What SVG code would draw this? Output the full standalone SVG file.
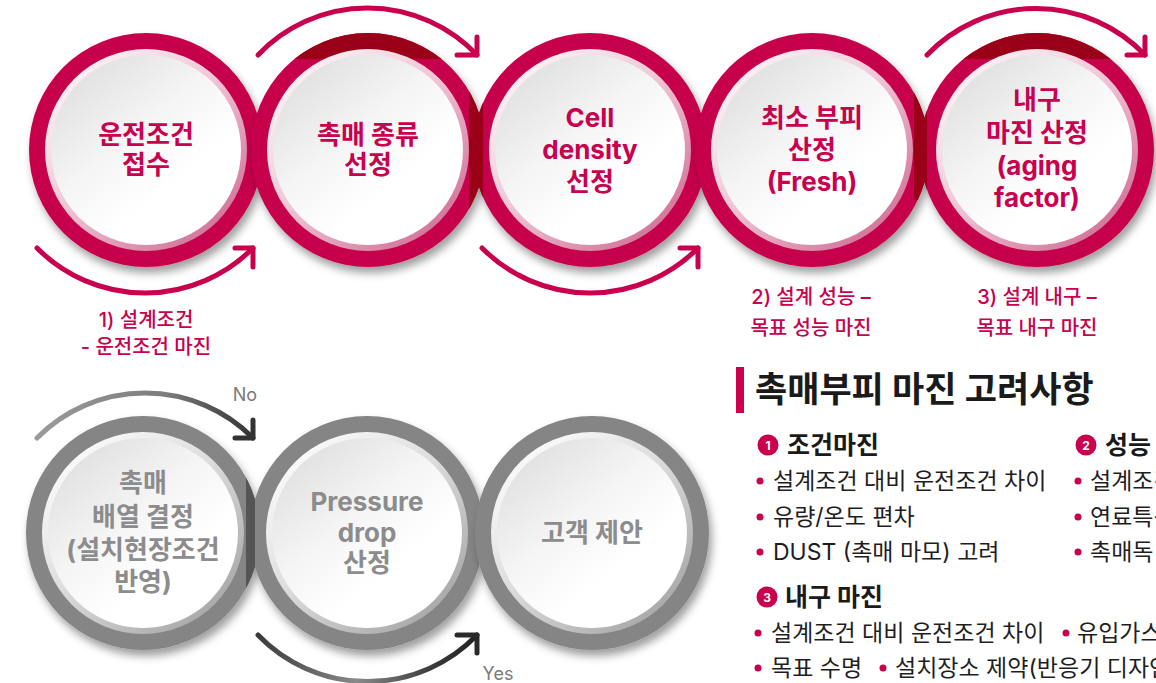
<svg xmlns="http://www.w3.org/2000/svg" width="1156" height="683" viewBox="0 0 1156 683">
<defs>
<style>
.ct{font-family:Inter,"Noto Sans CJK KR","Noto Sans",sans-serif;font-weight:700;font-size:26px;text-anchor:middle}
.pk{fill:#c8004d}
.gy{fill:#8c8c8c}
.lb{font-family:Inter,"Noto Sans CJK KR","Noto Sans",sans-serif;font-weight:500;font-size:20px;text-anchor:middle;fill:#c8004d}
.yn{font-family:Inter,"Noto Sans",sans-serif;font-weight:400;font-size:18px;fill:#7a7a7a}
.hd{font-family:Inter,"Noto Sans CJK KR","Noto Sans",sans-serif;font-weight:700;font-size:35px;fill:#1a1a1a}
.sh{font-family:Inter,"Noto Sans CJK KR","Noto Sans",sans-serif;font-weight:700;font-size:25px;fill:#1a1a1a}
.bt{font-family:Inter,"Noto Sans CJK KR","Noto Sans",sans-serif;font-weight:400;font-size:23px;fill:#1e1e1e}
.num{font-family:Inter,"Liberation Sans",sans-serif;font-weight:700;font-size:12px;fill:#fff;text-anchor:middle}
.bul{fill:#c8004d}
.arp{fill:none;stroke:#c8004d;stroke-width:5;stroke-linecap:round;stroke-linejoin:round}
.ring-p{fill:#c6004b}
.ring-g{fill:#858585}
</style>
<filter id="sh" x="-20%" y="-20%" width="150%" height="150%">
<feDropShadow dx="3" dy="6" stdDeviation="4" flood-color="#000" flood-opacity="0.38"/>
</filter>
<linearGradient id="bevP" x1="0.15" y1="0.1" x2="0.85" y2="0.9">
<stop offset="0" stop-color="#fbf1f5"/>
<stop offset="0.45" stop-color="#f0c6d6"/>
<stop offset="1" stop-color="#d27499"/>
</linearGradient>
<linearGradient id="bevG" x1="0.15" y1="0.1" x2="0.85" y2="0.9">
<stop offset="0" stop-color="#fafafa"/>
<stop offset="0.45" stop-color="#dcdcdc"/>
<stop offset="1" stop-color="#a8a8a8"/>
</linearGradient>
<linearGradient id="inn" x1="0.1" y1="0.05" x2="0.8" y2="0.9">
<stop offset="0" stop-color="#dedede"/>
<stop offset="0.45" stop-color="#f5f5f5"/>
<stop offset="0.75" stop-color="#ffffff"/>
<stop offset="1" stop-color="#ffffff"/>
</linearGradient>
<linearGradient id="gNo" gradientUnits="userSpaceOnUse" x1="37" y1="0" x2="253" y2="0">
<stop offset="0" stop-color="#9a9a9a"/>
<stop offset="0.6" stop-color="#7c7c7c"/>
<stop offset="1" stop-color="#333333"/>
</linearGradient>
<linearGradient id="gYes" gradientUnits="userSpaceOnUse" x1="258" y1="0" x2="477" y2="0">
<stop offset="0" stop-color="#3a3a3a"/>
<stop offset="0.45" stop-color="#8a8a8a"/>
<stop offset="0.8" stop-color="#3a3a3a"/>
<stop offset="1" stop-color="#222222"/>
</linearGradient>
<clipPath id="capTop"><rect x="0" y="0" width="1156" height="59"/></clipPath>
<clipPath id="c23"><circle cx="368" cy="150" r="117"/><circle cx="590" cy="150" r="117"/></clipPath>
<clipPath id="c45"><circle cx="812" cy="150" r="117"/><circle cx="1037" cy="150" r="117"/></clipPath>
<clipPath id="c67"><circle cx="143" cy="533" r="117"/><circle cx="367" cy="533" r="117"/></clipPath>
</defs>
<rect width="1156" height="683" fill="#ffffff"/>

<g id="node-1">
<circle class="ring-p" cx="146" cy="150" r="117" filter="url(#sh)"/>
<circle cx="146" cy="150" r="101" fill="url(#bevP)"/>
<circle cx="146" cy="150" r="95" fill="url(#inn)"/>
<text class="ct pk" x="146" y="144">운전조건</text>
<text class="ct pk" x="146" y="174">접수</text>
</g>
<g id="node-2">
<circle class="ring-p" cx="368" cy="150" r="117" filter="url(#sh)"/>
<circle cx="368" cy="150" r="117" fill="#9a0018" clip-path="url(#capTop)"/>
<circle cx="368" cy="150" r="101" fill="url(#bevP)"/>
<circle cx="368" cy="150" r="95" fill="url(#inn)"/>
<text class="ct pk" x="368" y="144">촉매 종류</text>
<text class="ct pk" x="368" y="174">선정</text>
</g>
<g id="node-3">
<circle class="ring-p" cx="590" cy="150" r="117" filter="url(#sh)"/>
<circle cx="590" cy="150" r="101" fill="url(#bevP)"/>
<circle cx="590" cy="150" r="95" fill="url(#inn)"/>
<text class="ct pk" x="590" y="127">Cell</text>
<text class="ct pk" x="590" y="159">density</text>
<text class="ct pk" x="590" y="191">선정</text>
</g>
<rect x="469" y="40" width="14" height="190" fill="#9a0018" clip-path="url(#c23)"/>
<g id="node-4">
<circle class="ring-p" cx="812" cy="150" r="117" filter="url(#sh)"/>
<circle cx="812" cy="150" r="101" fill="url(#bevP)"/>
<circle cx="812" cy="150" r="95" fill="url(#inn)"/>
<text class="ct pk" x="812" y="127">최소 부피</text>
<text class="ct pk" x="812" y="159">산정</text>
<text class="ct pk" x="812" y="191">(Fresh)</text>
</g>
<g id="node-5">
<circle class="ring-p" cx="1037" cy="150" r="117" filter="url(#sh)"/>
<circle cx="1037" cy="150" r="117" fill="#9a0018" clip-path="url(#capTop)"/>
<circle cx="1037" cy="150" r="101" fill="url(#bevP)"/>
<circle cx="1037" cy="150" r="95" fill="url(#inn)"/>
<text class="ct pk" x="1037" y="109">내구</text>
<text class="ct pk" x="1037" y="142">마진 산정</text>
<text class="ct pk" x="1037" y="175">(aging</text>
<text class="ct pk" x="1037" y="207">factor)</text>
</g>
<rect x="914" y="40" width="13" height="160" fill="#9a0018" clip-path="url(#c45)"/>

<g id="node-6">
<circle class="ring-g" cx="143" cy="533" r="117" filter="url(#sh)"/>
<circle cx="143" cy="533" r="101" fill="url(#bevG)"/>
<circle cx="143" cy="533" r="95" fill="url(#inn)"/>
<text class="ct gy" x="143" y="492">촉매</text>
<text class="ct gy" x="143" y="526">배열 결정</text>
<text class="ct gy" x="143" y="559">(설치현장조건</text>
<text class="ct gy" x="143" y="591">반영)</text>
</g>
<g id="node-7">
<circle class="ring-g" cx="367" cy="533" r="117" filter="url(#sh)"/>
<circle cx="367" cy="533" r="101" fill="url(#bevG)"/>
<circle cx="367" cy="533" r="95" fill="url(#inn)"/>
<text class="ct gy" x="367" y="511">Pressure</text>
<text class="ct gy" x="367" y="542">drop</text>
<text class="ct gy" x="367" y="572">산정</text>
</g>
<rect x="246" y="470" width="9" height="140" fill="#555555" clip-path="url(#c67)"/>
<g id="node-8">
<circle class="ring-g" cx="592" cy="533" r="117" filter="url(#sh)"/>
<circle cx="592" cy="533" r="101" fill="url(#bevG)"/>
<circle cx="592" cy="533" r="95" fill="url(#inn)"/>
<text class="ct gy" x="592" y="542">고객 제안</text>
</g>

<g id="connectors">
<path class="arp" d="M37,248 A152,152 0 0 0 253,248"/>
<path class="arp" d="M235,248 L253,248 L253,267"/>
<path class="arp" d="M258,55 A151,151 0 0 1 477,55"/>
<path class="arp" d="M457,55 L477,55 L477,37"/>
<path class="arp" d="M482,248 A152,152 0 0 0 698,248"/>
<path class="arp" d="M680,248 L698,248 L698,267"/>
<path class="arp" d="M927,55 A151,151 0 0 1 1145,55"/>
<path class="arp" d="M1127,55 L1145,55 L1145,37"/>
<path d="M37,438 A152,152 0 0 1 253,438" fill="none" stroke="url(#gNo)" stroke-width="5" stroke-linecap="round"/>
<path d="M235,438 L253,438 L253,420" fill="none" stroke="#333333" stroke-width="5" stroke-linecap="round" stroke-linejoin="round"/>
<path d="M258,635 A152,152 0 0 0 477,635" fill="none" stroke="url(#gYes)" stroke-width="5" stroke-linecap="round"/>
<path d="M457,635 L477,635 L477,653" fill="none" stroke="#2a2a2a" stroke-width="5" stroke-linecap="round" stroke-linejoin="round"/>
<text class="yn" x="245" y="401" text-anchor="middle">No</text>
<text class="yn" x="498" y="680" text-anchor="middle">Yes</text>
</g>

<g id="labels">
<text class="lb" x="146" y="327">1) 설계조건</text>
<text class="lb" x="146" y="354">- 운전조건 마진</text>
<text class="lb" x="811" y="304">2) 설계 성능 –</text>
<text class="lb" x="811" y="335">목표 성능 마진</text>
<text class="lb" x="1037" y="304">3) 설계 내구 –</text>
<text class="lb" x="1037" y="335">목표 내구 마진</text>
</g>

<g id="panel">
<rect x="736" y="367" width="8" height="46" fill="#c8004d"/>
<text class="hd" x="755" y="402">촉매부피 마진 고려사항</text>
<circle cx="768" cy="445" r="10.5" fill="#c8004d"/>
<text class="num" x="768" y="449.5">1</text>
<text class="sh" x="787" y="454">조건마진</text>
<circle class="bul" cx="760" cy="481" r="3.5"/>
<text class="bt" x="773" y="489">설계조건 대비 운전조건 차이</text>
<circle class="bul" cx="760" cy="517" r="3.5"/>
<text class="bt" x="773" y="525">유량/온도 편차</text>
<circle class="bul" cx="760" cy="552" r="3.5"/>
<text class="bt" x="773" y="560">DUST (촉매 마모) 고려</text>
<circle cx="1086" cy="445" r="10.5" fill="#c8004d"/>
<text class="num" x="1086" y="449.5">2</text>
<text class="sh" x="1105" y="454">성능</text>
<circle class="bul" cx="1078" cy="481" r="3.5"/>
<text class="bt" x="1090" y="489">설계조건</text>
<circle class="bul" cx="1078" cy="517" r="3.5"/>
<text class="bt" x="1090" y="525">연료특성</text>
<circle class="bul" cx="1078" cy="552" r="3.5"/>
<text class="bt" x="1090" y="560">촉매독</text>
<circle cx="767" cy="597" r="10.5" fill="#c8004d"/>
<text class="num" x="767" y="601.5">3</text>
<text class="sh" x="785" y="606">내구 마진</text>
<circle class="bul" cx="758" cy="633" r="3.5"/>
<text class="bt" x="771" y="641">설계조건 대비 운전조건 차이</text>
<circle class="bul" cx="1066" cy="633" r="3.5"/>
<text class="bt" x="1077" y="641">유입가스</text>
<circle class="bul" cx="758" cy="668" r="3.5"/>
<text class="bt" x="771" y="676">목표 수명</text>
<circle class="bul" cx="883" cy="668" r="3.5"/>
<text class="bt" x="895" y="676">설치장소 제약(반응기 디자인</text>
</g>
</svg>
